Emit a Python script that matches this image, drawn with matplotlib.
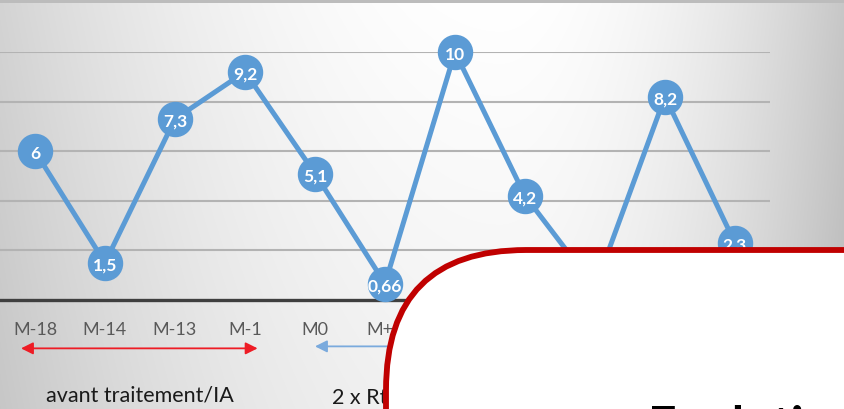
import numpy as np
import matplotlib
matplotlib.use("Agg")
import matplotlib.pyplot as plt
from matplotlib.patches import FancyBboxPatch

plt.rcParams['font.family'] = ['Lato', 'DejaVu Sans']

# ---- data ----
categories = ["M-18", "M-14", "M-13", "M-1", "M0", "M+1", "M+3", "M+6", "M+9", "M+12", "M+18"]
values = [6, 1.5, 7.3, 9.2, 5.1, 0.66, 10, 4.2, 0.5, 8.2, 2.3]
period_labels = ["avant traitement/IA", "2 x Rtx + IA"]
box_title = "Evolution"

W, H = 845, 410
fig = plt.figure(figsize=(W / 100, H / 100), dpi=100)

# ---- background gradient ----
bg = fig.add_axes([0, 0, 1, 1], zorder=0)
xx, yy = np.meshgrid(np.arange(W), np.arange(H))
left = 1 - 0.17 * ((xx - 500) / 500.0) ** 2
right = 1 - 0.22 * ((xx - 500) / 345.0) ** 2
g = np.where(xx < 500, left, right) - 0.05 * (yy / H)
g = np.where(yy < 4, 0.74, g)
g = np.clip(g, 0, 1)
bg.imshow(np.dstack([g, g, g]), extent=[0, W, H, 0], aspect='auto', interpolation='bilinear')
bg.set_xlim(0, W)
bg.set_ylim(H, 0)
bg.axis('off')

# ---- chart ----
ax = fig.add_axes([0, (H - 301) / H, 770 / W, 248 / H], zorder=1)
ax.patch.set_alpha(0)
x = np.arange(len(categories))
ax.set_xlim(-0.5, len(categories) - 0.5)
ax.set_ylim(0, 10)
ax.set_yticks([2, 4, 6, 8, 10])
ax.yaxis.grid(True, color='#b3b3b3', lw=1.5)
ax.set_axisbelow(True)
ax.tick_params(axis='y', length=0, labelleft=False)
for s in ax.spines.values():
    s.set_visible(False)
ax.axhline(0, color='#3f3f3f', lw=2.4, zorder=2, clip_on=False)

blue = '#5b9bd5'
ax.plot(x, values, color=blue, lw=3.6, marker='o', ms=24.5, mec=blue, mfc=blue,
        clip_on=False, zorder=3)
for xi, v in zip(x, values):
    ax.text(xi, v, f"{v:g}".replace('.', ','), ha='center', va='center_baseline',
            color='white', fontsize=12.5, fontweight='bold', zorder=4, clip_on=False)

ax.set_xticks(x)
ax.set_xticklabels(categories)
ax.tick_params(axis='x', length=0, pad=15, labelsize=13, labelcolor='#595959')

# period arrows
arr_y = -0.195
ax.annotate('', xy=(-0.2, arr_y), xytext=(3.18, arr_y), xycoords=('data', 'axes fraction'),
            textcoords=('data', 'axes fraction'), annotation_clip=False,
            arrowprops=dict(arrowstyle='<|-|>', color='#ee1c25', lw=1.3, mutation_scale=18,
                            shrinkA=0, shrinkB=0))
ax.annotate('', xy=(4.0, arr_y + 0.008), xytext=(9.2, arr_y + 0.008),
            xycoords=('data', 'axes fraction'),
            textcoords=('data', 'axes fraction'), annotation_clip=False,
            arrowprops=dict(arrowstyle='<|-|>', color='#7aaadd', lw=1.3, mutation_scale=18,
                            shrinkA=0, shrinkB=0))
ax.text(1.5, -0.38, period_labels[0], ha='center', va='center', fontsize=15.5,
        color='#1a1a1a', transform=ax.get_xaxis_transform(), clip_on=False)
ax.text(4.25, -0.39, period_labels[1], ha='left', va='center', fontsize=15.5,
        color='#1a1a1a', transform=ax.get_xaxis_transform(), clip_on=False)

# ---- overlay box ----
ov = fig.add_axes([0, 0, 1, 1], zorder=2)
ov.patch.set_alpha(0)
ov.set_xlim(0, W)
ov.set_ylim(H, 0)
ov.axis('off')
box = FancyBboxPatch((386, 251), 700, 400, boxstyle="round,pad=0,rounding_size=140",
                     fc='white', ec='#c00000', lw=4.2, clip_on=False)
ov.add_patch(box)
ov.text(648, 442, box_title, ha='left', va='baseline', fontsize=36, fontweight='bold',
        color='black', clip_on=False)

fig.savefig('out.png', dpi=100)
